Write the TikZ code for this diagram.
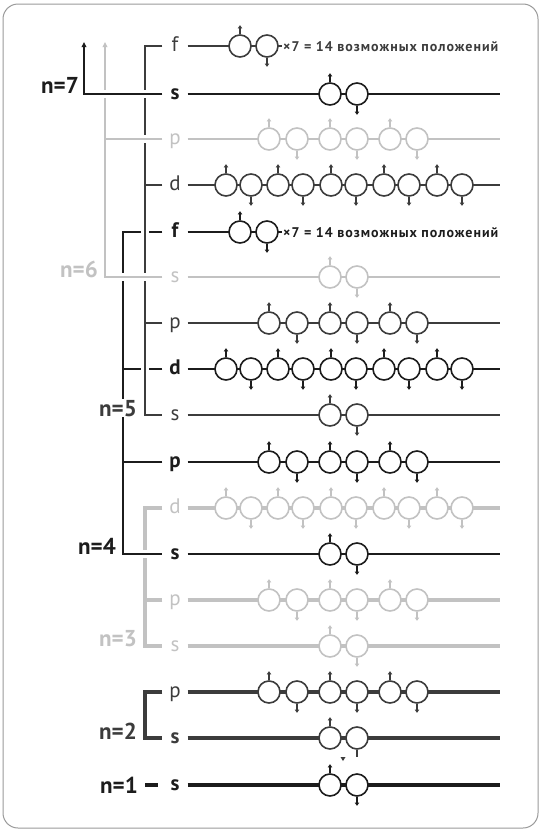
\documentclass[tikz,border=0pt]{standalone}
\usepackage{fontspec}
\setmainfont{PT Sans}
\usetikzlibrary{arrows.meta}
\definecolor{lvlblack}{HTML}{1C1C1C}
\definecolor{lvldark}{HTML}{3C3C3C}
\definecolor{lvlgray}{HTML}{C2C2C2}
\definecolor{framegray}{HTML}{9A9A9A}

% circle positions per sublevel: x / anchor / arrow length / arrow style
\def\orbs{330/north/-9/spin,357/south/9/spin}
\def\orbx{330/north/-9/spin,357/south/7/stub}
\def\orbp{269/north/-9/spin,297/south/9/spin,330/north/-9/spin,357/south/9/spin,390/north/-9/spin,417/south/9/spin}
\def\orbd{226/north/-9/spin,251/south/9/spin,278/north/-9/spin,303/south/9/spin,331/north/-9/spin,356/south/9/spin,384/north/-9/spin,409/south/9/spin,437/north/-9/spin,462/south/9/spin}
\def\orbf{240/north/-9/spin,267/south/9/spin}

\begin{document}
\begin{tikzpicture}[x=1pt,y=-1pt,
  sub/.style={font=\fontsize{21}{21}\selectfont,inner sep=0pt,minimum width=25pt,
    text height=10.5pt,text depth=0pt,anchor=center},
  subb/.style={sub,font=\fontsize{21}{21}\selectfont\bfseries},
  nlab/.style={font=\fontsize{23}{23}\selectfont\bfseries,inner sep=1pt,anchor=base east},
  orb/.style={circle,draw,fill=white,minimum size=22pt,inner sep=0pt,line width=1.6pt},
  spin/.style={-{Triangle[length=3.2pt,width=4.4pt]},line width=1.2pt},
  stub/.style={line width=1.2pt},
  lnthin/.style={line width=1.4pt},
  lnthick/.style={line width=3.2pt},
  halo/.style={preaction={draw=white,line width=8pt,-}},
  uparrow/.style={-{Triangle[length=5pt,width=4.6pt]}},
  ftext/.style={font=\fontsize{14}{14}\selectfont\bfseries\addfontfeature{LetterSpace=7},
    inner sep=0pt,anchor=base west},
  frame/.style={draw=framegray,line width=1pt,rounded corners=15pt}
]
  \useasboundingbox (0,0) rectangle (541,830);
  \draw[frame] (3,4) rectangle (538,828);

  % sublevels
  \foreach \nm/\yy/\ll/\cc/\ww/\kk/\lw/\xe in {
      o5f/46/f/lvldark/sub/f/lnthin/282,
      o7s/94/s/lvlblack/subb/s/lnthin/500,
      o6p/139/p/lvlgray/sub/p/lnthin/500,
      o5d/185/d/lvldark/sub/d/lnthin/500,
      o4f/232/f/lvlblack/subb/f/lnthin/282,
      o6s/277/s/lvlgray/sub/s/lnthin/500,
      o5p/323/p/lvldark/sub/p/lnthin/500,
      o4d/369/d/lvlblack/subb/d/lnthin/500,
      o5s/415/s/lvldark/sub/s/lnthin/500,
      o4p/462/p/lvlblack/subb/p/lnthin/500,
      o3d/508/d/lvlgray/sub/d/lnthick/500,
      o4s/554/s/lvlblack/subb/s/lnthin/500,
      o3p/600/p/lvlgray/sub/p/lnthick/500,
      o3s/646/s/lvlgray/sub/s/lnthick/500,
      o2p/692/p/lvldark/sub/p/lnthick/500,
      o2s/738/s/lvldark/subb/x/lnthick/500,
      o1s/785/s/lvlblack/subb/s/lnthick/500} {
    \node[\ww,text=\cc] (\nm) at (175,\yy) {\ll};
    \coordinate (\nm-e) at (\xe,\yy);
    \draw[\lw,draw=\cc] (\nm) -- (\nm-e);
    \edef\curorbs{\csname orb\kk\endcsname}
    \foreach \xx/\an/\dy/\st [count=\k] in \curorbs {
      \node[orb,draw=\cc] (\nm-\k) at (\xx,\yy) {};
      \draw[\st,color=\cc] (\nm-\k.\an) -- ++(0,\dy);
    }
  }
  \fill[lvldark] (340.5,757) -- (345.5,757) -- (343,761) -- cycle;

  \node[ftext,text=lvldark] (t5f) at (283,51) {×7 = 14 возможных положений};
  \node[ftext,text=lvlblack] (t4f) at (283,237) {×7 = 14 возможных положений};

  % brackets of the shells
  \coordinate (b1) at (145,785);
  \coordinate (b2) at (145,715);
  \coordinate (b3) at (145,580);
  \coordinate (b4) at (123,400);
  \coordinate (b5) at (145,230);
  \coordinate (b6) at (105,42);
  \coordinate (b7) at (84,42);

  \draw[lnthick,draw=lvlblack,shorten >=4.5pt] (b1) -- (o1s);
  \draw[lnthick,draw=lvldark,halo] (o2p.west) -- (o2p.west -| b2) -- (o2s.west -| b2) -- (o2s.west);
  \draw[lnthick,draw=lvlgray,halo] (o3d.west) -- (o3d.west -| b3) -- (o3s.west -| b3) -- (o3s.west)
    (o3p.west) -- (o3p.west -| b3);
  \draw[lnthin,draw=lvlblack,halo] (o4f.west) -- (o4f.west -| b4) -- (o4s.west -| b4) -- (o4s.west)
    (o4d.west) -- (o4d.west -| b4) (o4p.west) -- (o4p.west -| b4);
  \draw[lnthin,draw=lvldark,halo] (o5f.west) -- (o5f.west -| b5) -- (o5s.west -| b5) -- (o5s.west)
    (o5d.west) -- (o5d.west -| b5) (o5p.west) -- (o5p.west -| b5);
  \draw[lnthin,draw=lvlgray,halo,uparrow] (o6p.west) -- (o6p.west -| b6) (o6s.west) -| (b6);
  \draw[lnthin,draw=lvlblack,halo,uparrow] (o7s.west) -| (b7);

  \node[nlab,text=lvlblack] (n7) at (80,93) {n=7};
  \node[nlab,text=lvlgray] (n6) at (99,277) {n=6};
  \node[nlab,text=lvldark,fill=white] (n5) at (138,416) {n=5};
  \node[nlab,text=lvlblack] (n4) at (117,554) {n=4};
  \node[nlab,text=lvlgray] (n3) at (138,646) {n=3};
  \node[nlab,text=lvldark] (n2) at (138,739) {n=2};
  \node[nlab,text=lvlblack] (n1) at (139,793) {n=1};
\end{tikzpicture}
\end{document}
